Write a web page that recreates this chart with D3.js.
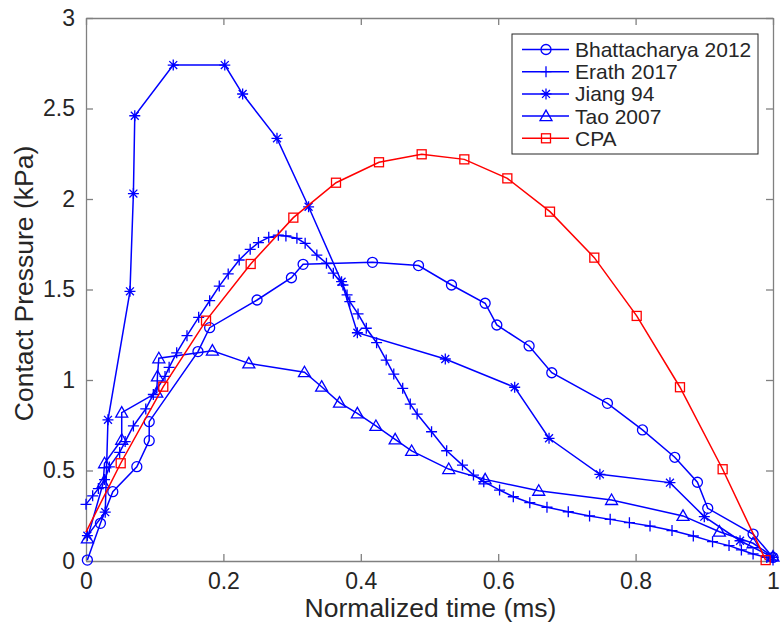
<!DOCTYPE html>
<html>
<head>
<meta charset="utf-8">
<script src="https://cdn.jsdelivr.net/npm/d3@7"></script>
<style>
  html, body { margin: 0; padding: 0; background: #fff; }
  svg text { font-family: "Liberation Sans", Arial, Helvetica, sans-serif; fill: #262626; }
</style>
</head>
<body>
<svg id="chart" width="782" height="629"></svg>
<script>
// ---------- data ----------
const bhattX = [0.002,0.021,0.039,0.074,0.092,0.092,0.163,0.18,0.249,0.299,0.316,0.417,0.484,0.532,0.581,0.598,0.645,0.678,0.759,0.81,0.857,0.89,0.905,0.971,1.0];
const bhattY = [0.005,0.208,0.383,0.521,0.665,0.77,1.157,1.289,1.442,1.565,1.639,1.65,1.632,1.525,1.424,1.304,1.188,1.04,0.871,0.724,0.573,0.435,0.291,0.149,0.02];

const erathX = [0,0.0097,0.018,0.027,0.034,0.049,0.057,0.069,0.087,0.098,0.115,0.121,0.132,0.147,0.164,0.18,0.194,0.207,0.223,0.239,0.251,0.266,0.28,0.291,0.307,0.319,0.336,0.35,0.36,0.374,0.38,0.384,0.396,0.408,0.423,0.437,0.448,0.461,0.472,0.482,0.503,0.525,0.548,0.564,0.579,0.602,0.622,0.646,0.671,0.702,0.733,0.763,0.791,0.821,0.853,0.884,0.912,0.936,0.954,0.971,0.991,1.0];
const erathY = [0.313,0.36,0.4,0.45,0.52,0.6,0.66,0.746,0.84,0.92,1.02,1.07,1.15,1.245,1.346,1.438,1.519,1.586,1.663,1.722,1.759,1.788,1.8,1.796,1.783,1.755,1.69,1.645,1.59,1.525,1.47,1.433,1.365,1.286,1.206,1.11,1.033,0.954,0.867,0.812,0.714,0.609,0.53,0.475,0.438,0.392,0.355,0.322,0.297,0.272,0.249,0.23,0.212,0.193,0.168,0.138,0.107,0.085,0.061,0.039,0.02,0.005];

const jiangX = [0.002,0.028,0.032,0.064,0.069,0.071,0.127,0.202,0.228,0.278,0.324,0.372,0.395,0.523,0.624,0.674,0.748,0.85,0.9,0.952,1.0];
const jiangY = [0.14,0.27,0.78,1.49,2.03,2.46,2.74,2.74,2.58,2.335,1.957,1.543,1.261,1.116,0.96,0.678,0.479,0.433,0.245,0.112,0.02];

const taoX = [0.002,0.025,0.027,0.052,0.052,0.103,0.104,0.106,0.184,0.237,0.318,0.343,0.369,0.395,0.422,0.45,0.474,0.528,0.581,0.659,0.765,0.869,0.922,0.971,1.0];
const taoY = [0.125,0.43,0.54,0.67,0.82,0.93,1.02,1.12,1.162,1.092,1.043,0.963,0.875,0.816,0.746,0.672,0.608,0.508,0.451,0.388,0.337,0.249,0.162,0.098,0.024];

const cpaX = [0,0.0505,0.1125,0.1747,0.2397,0.3018,0.3639,0.4265,0.4886,0.5507,0.6133,0.6754,0.7399,0.8016,0.8646,0.9267,0.9893];
const cpaY = [0.16,0.54,0.963,1.328,1.641,1.897,2.09,2.203,2.247,2.219,2.114,1.93,1.676,1.354,0.96,0.507,0.005];

const seriesNames = ["Bhattacharya 2012","Erath 2017","Jiang 94","Tao 2007","CPA"];
const xTicks = [0,0.2,0.4,0.6,0.8,1];
const yTicks = [0,0.5,1,1.5,2,2.5,3];
const xLabel = "Normalized time (ms)";
const yLabel = "Contact Pressure (kPa)";

// ---------- layout ----------
const L = 86, R = 773, T = 18, B = 561;
const svg = d3.select("#chart");
const x = d3.scaleLinear().domain([0,1]).range([L,R]);
const y = d3.scaleLinear().domain([0,3]).range([B,T]);

const series = [
  {name: seriesNames[0], xs: bhattX, ys: bhattY, color: "#0000ff", marker: "circle"},
  {name: seriesNames[1], xs: erathX, ys: erathY, color: "#0000ff", marker: "plus"},
  {name: seriesNames[2], xs: jiangX, ys: jiangY, color: "#0000ff", marker: "star"},
  {name: seriesNames[3], xs: taoX, ys: taoY, color: "#0000ff", marker: "triangle"},
  {name: seriesNames[4], xs: cpaX, ys: cpaY, color: "#ff0000", marker: "square", skipFirst: true}
];

// axes
const axisColor = "#808080";
const gx = svg.append("g").attr("transform", `translate(0,${B})`)
  .call(d3.axisBottom(x).tickValues(xTicks).tickFormat(d3.format("~g")).tickSizeInner(-7).tickSizeOuter(0).tickPadding(11));
const gxTop = svg.append("g").attr("transform", `translate(0,${T})`)
  .call(d3.axisTop(x).tickValues(xTicks).tickFormat("").tickSizeInner(-7).tickSizeOuter(0));
const gy = svg.append("g").attr("transform", `translate(${L},0)`)
  .call(d3.axisLeft(y).tickValues(yTicks).tickFormat(d3.format("~g")).tickSizeInner(-7).tickSizeOuter(0).tickPadding(11));
const gyR = svg.append("g").attr("transform", `translate(${R},0)`)
  .call(d3.axisRight(y).tickValues(yTicks).tickFormat("").tickSizeInner(-7).tickSizeOuter(0));
[gx, gxTop, gy, gyR].forEach(g => {
  g.selectAll("path.domain").attr("stroke", axisColor).attr("stroke-width", 1.3);
  g.selectAll("line").attr("stroke", axisColor).attr("stroke-width", 1.3);
  g.selectAll("text").attr("font-size", 23).attr("fill", "#262626")
    .style("font-family", "'Liberation Sans', Arial, sans-serif");
});
gx.selectAll("text").attr("dy", "0.72em");

// axis labels
svg.append("text").attr("x", (L+R)/2 + 1).attr("y", 617).attr("text-anchor", "middle")
  .attr("font-size", 26.5).text(xLabel);
svg.append("text").attr("transform", `translate(33,${(T+B)/2 - 6}) rotate(-90)`).attr("text-anchor", "middle")
  .attr("font-size", 26.5).text(yLabel);

// markers
function drawMarker(g, type, cx, cy, color) {
  const s = 5.5;
  if (type === "circle") {
    g.append("circle").attr("cx", cx).attr("cy", cy).attr("r", 5).attr("fill", "none").attr("stroke", color).attr("stroke-width", 1.3);
  } else if (type === "plus") {
    g.append("path").attr("d", `M${cx-s},${cy}H${cx+s}M${cx},${cy-s}V${cy+s}`).attr("stroke", color).attr("stroke-width", 1.3).attr("fill", "none");
  } else if (type === "star") {
    const d = s*0.72;
    g.append("path").attr("d", `M${cx-s},${cy}H${cx+s}M${cx},${cy-s}V${cy+s}M${cx-d},${cy-d}L${cx+d},${cy+d}M${cx-d},${cy+d}L${cx+d},${cy-d}`)
      .attr("stroke", color).attr("stroke-width", 1.3).attr("fill", "none");
  } else if (type === "triangle") {
    const h = 6;
    g.append("path").attr("d", `M${cx},${cy-h}L${cx+h},${cy+h*0.75}L${cx-h},${cy+h*0.75}Z`).attr("stroke", color).attr("stroke-width", 1.3).attr("fill", "none");
  } else if (type === "square") {
    g.append("rect").attr("x", cx-4.5).attr("y", cy-4.5).attr("width", 9).attr("height", 9).attr("fill", "none").attr("stroke", color).attr("stroke-width", 1.3);
  }
}

const line = d3.line().x(d => x(d[0])).y(d => y(d[1]));
const plot = svg.append("g");
series.forEach(sr => {
  const pts = sr.xs.map((v,i) => [v, sr.ys[i]]);
  plot.append("path").datum(pts).attr("d", line).attr("fill", "none").attr("stroke", sr.color).attr("stroke-width", 1.5);
  const mg = plot.append("g");
  pts.forEach((p,i) => {
    if (sr.skipFirst && i === 0) return;
    drawMarker(mg, sr.marker, x(p[0]), y(p[1]), sr.color);
  });
});

// legend
const lg = svg.append("g");
lg.append("rect").attr("x", 512).attr("y", 34).attr("width", 246).attr("height", 120)
  .attr("fill", "#fff").attr("stroke", "#262626").attr("stroke-width", 1);
series.forEach((sr, i) => {
  const ly = 49.5 + i * 22.2;
  lg.append("line").attr("x1", 522).attr("x2", 569).attr("y1", ly).attr("y2", ly).attr("stroke", sr.color).attr("stroke-width", 1.5);
  drawMarker(lg, sr.marker, 546, ly, sr.color);
  lg.append("text").attr("x", 575).attr("y", ly).attr("dy", "0.36em").attr("font-size", 21).text(sr.name);
});
</script>
</body>
</html>
